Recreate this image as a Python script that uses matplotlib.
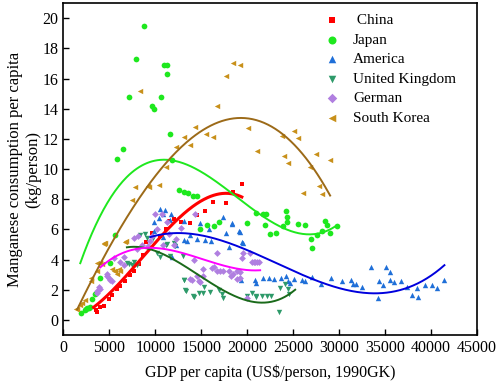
import numpy as np
import matplotlib
matplotlib.use("Agg")
import matplotlib.pyplot as plt

plt.rcParams["font.family"] = ["Liberation Serif", "DejaVu Serif"]

# ── scatter data ──
china_x = [3600, 3700, 4050, 4420, 4960, 5330, 5870, 6200, 6740, 7280, 7680, 8200, 8700,
           9000, 9700, 10500, 11200, 11500, 12070, 12830, 13730, 14530, 15430, 16300,
           17720, 18500, 19420]
china_y = [0.65, 0.55, 0.86, 0.93, 1.4, 1.66, 2.05, 2.25, 2.6, 3.0, 3.25, 3.7, 4.3,
           5.2, 5.8, 5.6, 6.0, 6.55, 6.7, 6.5, 6.4, 6.95, 7.2, 7.8, 7.75, 8.5, 9.0]

japan_x = [1900, 2360, 2500, 2610, 2750, 2900, 3150, 3480, 3950, 5110, 5650, 5870, 6450,
           7100, 7900, 8800, 9640, 9920, 10620, 11010, 11270, 11300, 11600, 11880, 12600,
           13150, 13520, 14100, 14530, 14900, 15620, 16340, 16990, 19970, 20980, 21770,
           22060, 21960, 22430, 23150, 23880, 24240, 24310, 24310, 25510, 26300, 26960,
           27100, 27570, 28120, 28480, 28660, 29020, 29750]
japan_y = [0.5, 0.64, 0.7, 0.77, 0.8, 0.85, 1.37, 1.7, 2.76, 3.8, 5.63, 10.7, 11.35,
           14.8, 17.3, 19.45, 14.2, 14.0, 14.8, 16.9, 16.9, 16.3, 12.3, 10.6, 8.6,
           8.5, 8.4, 8.25, 8.2, 6.0, 6.33, 6.2, 6.5, 6.45, 7.1, 7.05,
           7.05, 6.3, 5.72, 5.8, 6.2, 7.2, 6.8, 6.5, 6.38, 6.3, 5.4,
           4.75, 5.63, 5.9, 6.55, 6.33, 5.8, 6.2]

america_x = [9820, 9890, 10360, 10470, 10900, 11090, 11630, 11740, 10900, 11810, 12300,
             13150, 13080, 13440, 13800, 14530, 14820, 15430, 15800, 16060, 17420, 17720,
             17970, 18330, 18330, 19060, 19170, 19420, 19600, 19350, 20800, 20980, 21770,
             22320, 22940, 23700, 24240, 24490, 24670, 25040, 25940, 26300, 27100, 28050,
             29100, 30290, 31270, 31490, 31850, 32470, 33480, 34210, 34380, 34820, 35110,
             35540, 35540, 35980, 36740, 37360, 37900, 38450, 38550, 39350, 40070, 40620,
             41450]
america_y = [5.93, 6.5, 6.78, 7.33, 7.0, 7.26, 6.6, 7.05, 5.5, 4.2, 5.0,
             6.55, 5.3, 5.23, 5.63, 5.34, 6.4, 5.3, 6.0, 5.23, 6.8, 5.8,
             4.83, 6.38, 6.4, 5.9, 5.85, 5.16, 5.12, 2.67, 2.63, 2.47, 2.76,
             2.8, 2.7, 2.8, 2.9, 2.58, 2.47, 2.7, 2.63, 2.58, 2.85, 2.36,
             2.8, 2.58, 2.65, 2.4, 2.4, 2.18, 3.51, 1.44, 2.58, 2.32, 3.51,
             3.2, 2.63, 2.54, 2.58, 2.18, 1.66, 2.14, 1.52, 2.32, 2.32, 2.1,
             2.63]

uk_x = [6960, 7170, 7500, 7720, 8040, 8370, 8910, 9130, 9750, 10190, 10540, 11200, 11270,
        11630, 11990, 12170, 13010, 13080, 13150, 13260, 13370, 14100, 14240, 14710, 15250,
        15330, 15980, 16990, 17250, 17420, 19970, 20510, 20980, 20980, 21600, 22140, 22580,
        23510, 23590, 24130, 24490, 24600]
uk_y = [3.8, 3.73, 3.68, 3.84, 3.68, 5.63, 5.72, 5.45, 5.45, 4.46, 4.17, 5.0, 5.05,
        4.24, 5.12, 4.9, 4.24, 2.63, 2.63, 1.99, 1.92, 1.59, 1.54, 1.81, 1.81,
        2.18, 1.87, 1.96, 1.7, 1.44, 1.59, 1.81, 1.59, 1.52, 1.59, 1.59, 1.59,
        0.53, 2.1, 2.36, 2.03, 1.74]

german_x = [3660, 3700, 3910, 3950, 4750, 4780, 4930, 5110, 5330, 5470, 6200, 6560, 6600,
            7650, 8040, 8080, 8600, 9270, 9460, 9700, 10000, 10200, 10730, 10900, 11270,
            11500, 11990, 12300, 12800, 13730, 13990, 14170, 14350, 14530, 14710, 14890,
            15250, 15250, 16160, 16340, 16700, 16700, 17060, 17360, 17970, 18230, 18510,
            18880, 18880, 19170, 19240, 19420, 19600, 19970, 20330, 20510, 20690, 20800,
            21050, 21340]
german_y = [1.92, 1.81, 2.18, 2.03, 2.91, 3.02, 2.76, 2.67, 2.58, 4.08, 3.86, 4.19, 3.68,
            5.45, 4.68, 5.6, 5.0, 4.9, 5.23, 5.6, 7.0, 6.0, 7.05, 5.0, 6.5,
            5.7, 4.97, 5.4, 6.1, 2.7, 2.63, 3.95, 7.0, 2.91, 2.58, 2.54,
            3.35, 2.91, 3.46, 3.51, 4.46, 3.28, 3.28, 3.24, 3.24, 2.89, 3.02,
            3.28, 2.7, 2.8, 3.2, 4.13, 4.46, 1.48, 4.46, 3.84, 3.86, 3.84,
            3.84, 3.84]

korea_x = [1410, 1520, 1770, 2070, 2360, 2970, 3010, 3660, 3700, 3950, 4020, 4240, 4380,
           4420, 4560, 5330, 5470, 5620, 5870, 6010, 6120, 6740, 6780, 7460, 7750, 8370,
           9200, 9350, 10360, 11160, 12250, 13080, 13730, 14350, 15510, 16230, 16700,
           17720, 18510, 19170, 20080, 21120, 23770, 24020, 24490, 25040, 25580, 26120,
           26850, 27460, 27830, 28120, 29020]
korea_y = [0.7, 0.7, 1.0, 1.15, 1.3, 2.8, 2.58, 3.24, 3.8, 3.8, 3.8, 3.73, 5.12,
           5.05, 5.12, 3.35, 3.24, 3.24, 3.02, 3.35, 3.28, 5.19, 5.23, 7.98, 8.8, 15.2,
           8.9, 8.8, 8.94, 10.15, 11.48, 12.14, 11.6, 12.8, 12.3, 12.1, 14.2,
           16.2, 17.0, 16.9, 12.7, 11.2, 12.2, 10.86, 10.42, 12.5, 12.07, 8.43,
           10.15, 11.0, 8.87, 8.37, 10.63]

# ── trend line values ──
china_fit_x = [3300, 6920, 9020, 11270, 13080, 14890, 18150, 19420]
china_fit_y = [0.93, 2.58, 4.77, 6.1, 7.0, 7.7, 8.37, 8.2]

japan_fit_x = [1850, 4020, 5650, 8010, 10540, 11990, 14890, 17790, 18880, 22500,
               24670, 26490, 28120, 29670]
japan_fit_y = [3.7, 7.0, 8.54, 10.1, 10.55, 10.55, 9.87, 8.65, 8.1, 6.56,
               5.95, 5.72, 5.8, 6.2]

america_fit_x = [9460, 11630, 13080, 15250, 18880, 20330, 22500, 23950, 27570, 31200,
                 34100, 36630, 39170, 41450]
america_fit_y = [5.55, 5.67, 5.7, 5.6, 5.12, 4.52, 3.9, 3.42, 2.58, 2.1,
                 1.78, 1.92, 2.58, 3.68]

uk_fit_x = [6920, 8370, 10540, 12720, 15250, 18880, 20330, 22000, 23950, 25220]
uk_fit_y = [4.79, 4.83, 4.57, 3.68, 2.7, 1.59, 1.26, 1.17, 1.44, 2.03]

german_fit_x = [4020, 5470, 8370, 10540, 13440, 15250, 17790, 18880, 20330, 21410]
german_fit_y = [3.42, 4.24, 4.75, 4.7, 4.34, 4.02, 3.58, 3.42, 3.3, 3.28]

korea_fit_x = [1520, 2210, 4020, 5840, 8370, 9820, 11270, 14170, 16700, 19060,
               21410, 23590, 26850, 29020]
korea_fit_y = [0.77, 1.26, 3.68, 6.33, 8.32, 9.2, 10.13, 11.85, 13.18, 13.62,
               13.4, 12.3, 10.2, 8.32]

labels = [" China", "Japan", "America", "United Kingdom", "German", "South Korea"]
markers = ["s", "o", "^", "v", "D", "<"]
marker_sizes = [11, 17, 15, 15, 12, 15]
point_colors = ["#ff0000", "#1ee81e", "#1f6fd8", "#2e9a6a", "#b07fe0", "#c8901a"]
line_colors = ["#ff0000", "#1ee81e", "#0000dd", "#1a6a1a", "#ff00ff", "#9c6a18"]
line_widths = [2.2, 1.4, 1.4, 1.4, 1.4, 1.4]

series = [(china_x, china_y), (japan_x, japan_y), (america_x, america_y),
          (uk_x, uk_y), (german_x, german_y), (korea_x, korea_y)]
trends = [(china_fit_x, china_fit_y), (japan_fit_x, japan_fit_y),
          (america_fit_x, america_fit_y), (uk_fit_x, uk_fit_y),
          (german_fit_x, german_fit_y), (korea_fit_x, korea_fit_y)]

fig, ax = plt.subplots(figsize=(4.98, 3.87), dpi=100)
fig.subplots_adjust(left=0.127, right=0.958, bottom=0.134, top=0.992)

for (xs, ys), lab, m, ms, pc in zip(series, labels, markers, marker_sizes, point_colors):
    ax.scatter(xs, ys, marker=m, s=ms, color=pc, linewidths=0, label=lab, zorder=2)

# smooth cubic trend through the values read for each curve
for (xs, ys), lc, lw in zip(trends, line_colors, line_widths):
    xs = np.array(xs, dtype=float)
    coef = np.polyfit(xs, ys, 3)
    xx = np.linspace(xs.min(), xs.max(), 200)
    ax.plot(xx, np.polyval(coef, xx), color=lc, lw=lw, zorder=3)

ax.set_xlim(0, 45000)
ax.set_ylim(-1, 21)
ax.set_xticks(np.arange(0, 45001, 5000))
ax.set_yticks(np.arange(0, 21, 2))
ax.tick_params(direction="in", length=4, width=1, labelsize=11.5)
for sp in ax.spines.values():
    sp.set_linewidth(1.2)

ax.set_xlabel("GDP per capita (US$/person, 1990GK)", fontsize=11.5, labelpad=6)
ax.set_ylabel("Manganese consumption per capita\n(kg/person)", fontsize=12)
ax.yaxis.set_label_coords(-0.052, 0.5)

leg = ax.legend(loc="upper right", bbox_to_anchor=(0.975, 1.0), frameon=False,
                fontsize=11, handletextpad=0.4, labelspacing=0.38,
                markerscale=1.4, borderaxespad=0.3)

plt.savefig("out.png", dpi=100)
